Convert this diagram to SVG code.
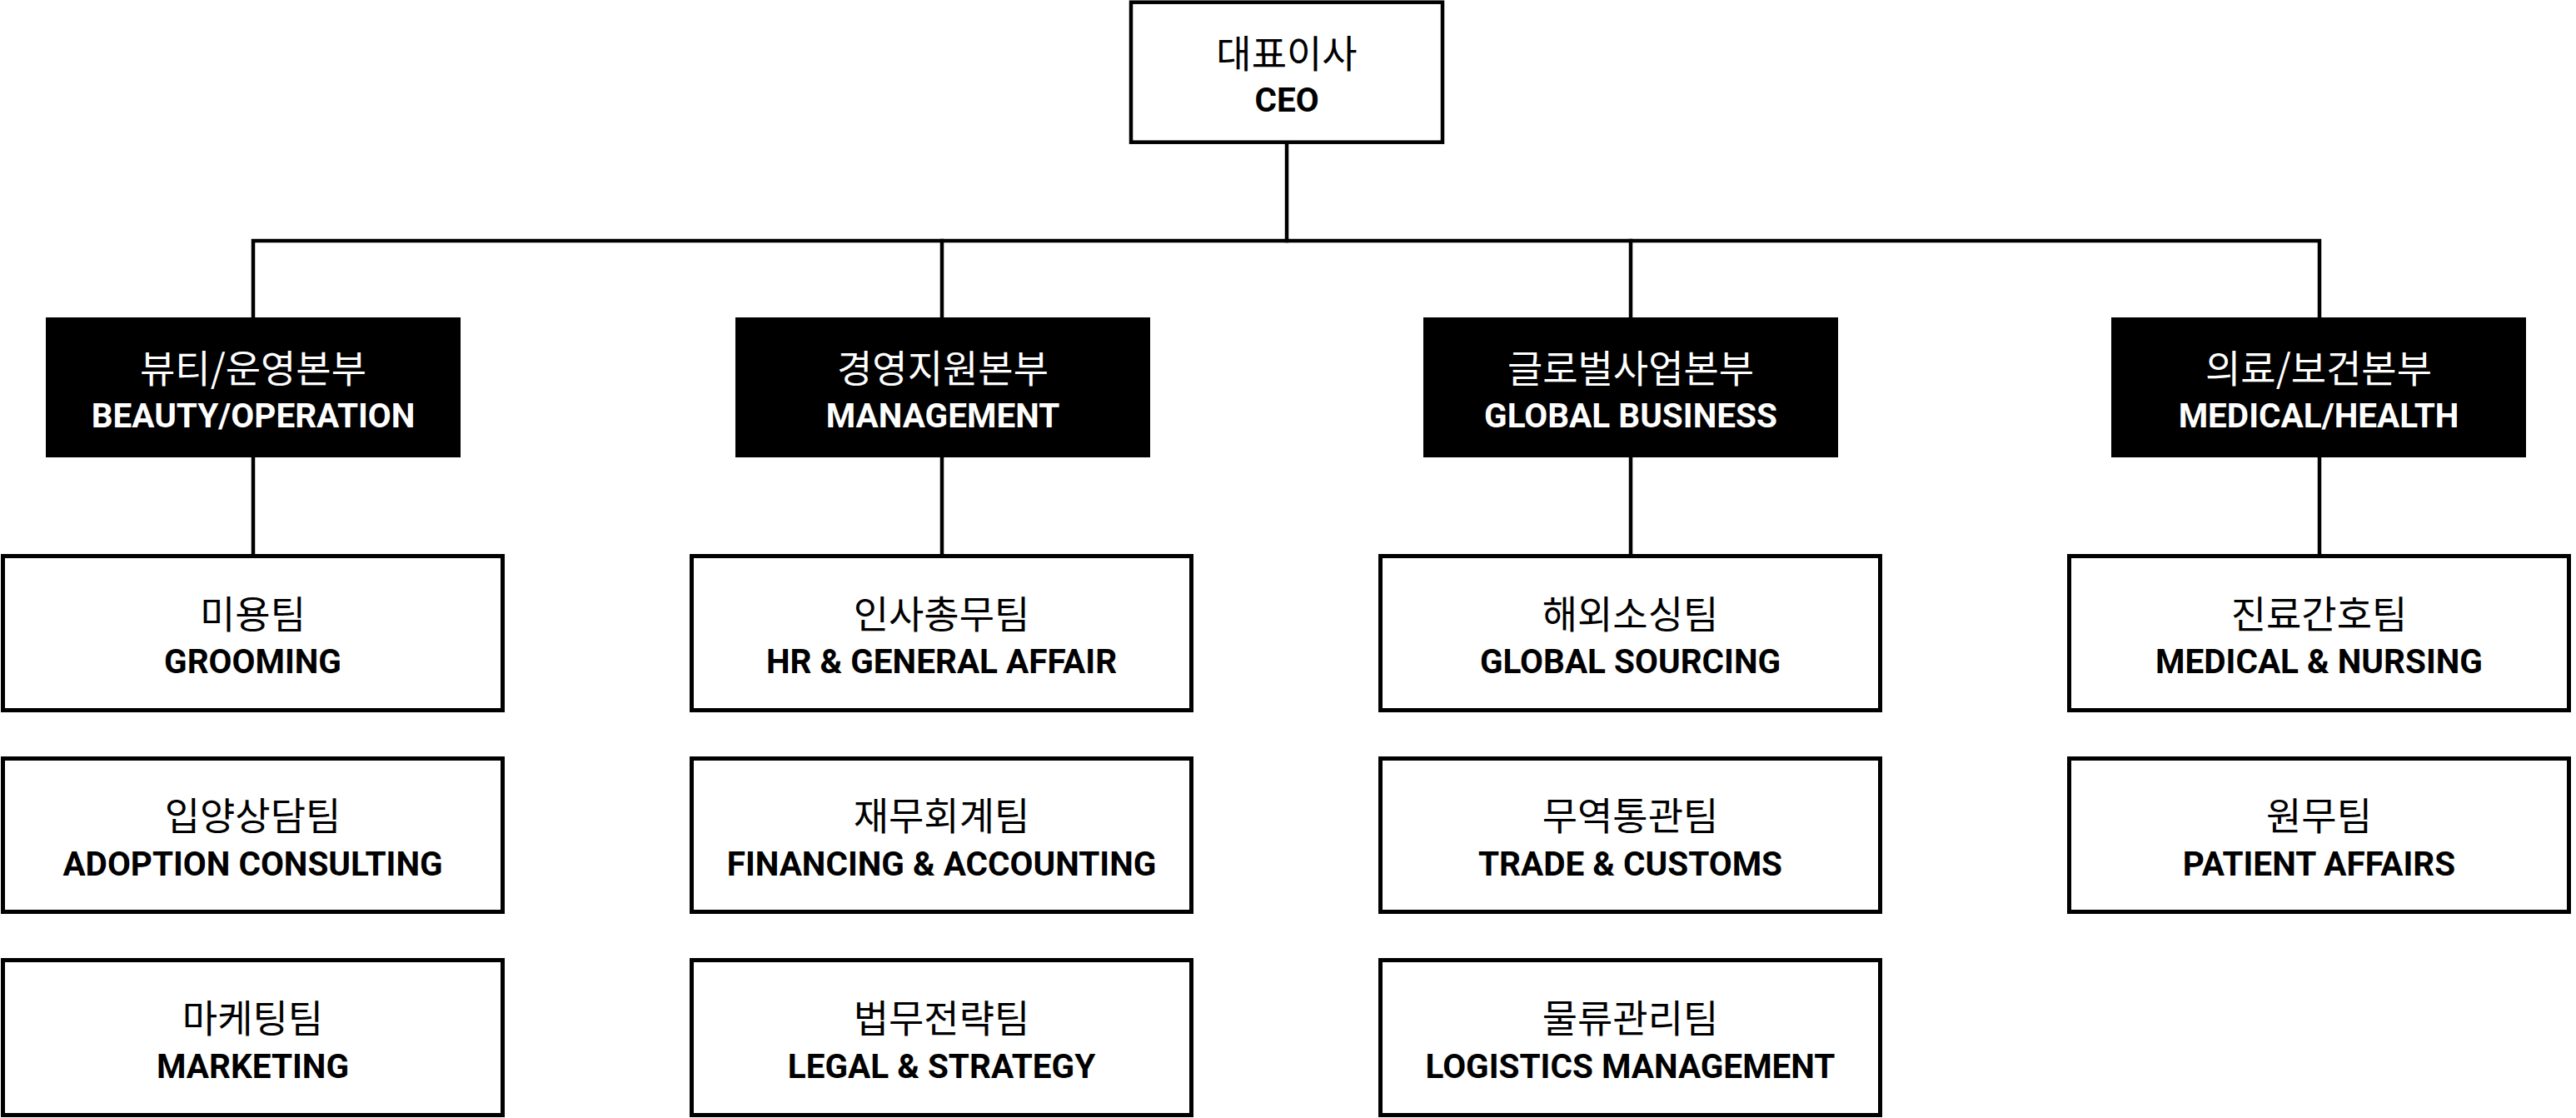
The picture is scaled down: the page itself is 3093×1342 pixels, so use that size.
<svg xmlns="http://www.w3.org/2000/svg" width="3093" height="1342" viewBox="0 0 3093 1342">
<style>
.bg{fill:#ffffff}
.ln{stroke:#000;stroke-width:4.5;fill:none;stroke-linecap:square}
.ceo{fill:#fff;stroke:#000;stroke-width:4.5}
.div{fill:#000}
.team{fill:#fff;stroke:#000;stroke-width:5}
.ko{font-family:"Noto Sans CJK KR","Noto Sans",sans-serif;font-size:46px;font-weight:400;text-anchor:middle}
.en{font-family:Roboto,"Liberation Sans",sans-serif;font-size:40.5px;font-weight:700;text-anchor:middle}
.k{fill:#000}
.w{fill:#fff}
</style>
<rect class="bg" x="0" y="0" width="3093" height="1342"/>
<g id="connectors">
<line class="ln" x1="1545" y1="172" x2="1545" y2="289"/>
<polyline class="ln" points="304,381 304,289 2785,289 2785,381"/>
<line class="ln" x1="1131" y1="289" x2="1131" y2="381"/>
<line class="ln" x1="1958" y1="289" x2="1958" y2="381"/>
<line class="ln" x1="304" y1="549" x2="304" y2="667"/>
<line class="ln" x1="1131" y1="549" x2="1131" y2="667"/>
<line class="ln" x1="1958" y1="549" x2="1958" y2="667"/>
<line class="ln" x1="2785" y1="549" x2="2785" y2="667"/>
</g>
<g id="ceo">
<rect class="ceo" x="1358" y="2.7" width="374" height="168"/>
<text class="ko k" x="1545" y="80.5">대표이사</text>
<text class="en k" x="1545" y="134">CEO</text>
</g>
<g id="div-beauty">
<rect class="div" x="55" y="381" width="498" height="168"/>
<text class="ko w" x="304" y="458.5">뷰티/운영본부</text>
<text class="en w" x="304" y="513">BEAUTY/OPERATION</text>
</g>
<g id="div-management">
<rect class="div" x="883" y="381" width="498" height="168"/>
<text class="ko w" x="1132" y="458.5">경영지원본부</text>
<text class="en w" x="1132" y="513">MANAGEMENT</text>
</g>
<g id="div-global">
<rect class="div" x="1709" y="381" width="498" height="168"/>
<text class="ko w" x="1958" y="458.5">글로벌사업본부</text>
<text class="en w" x="1958" y="513">GLOBAL BUSINESS</text>
</g>
<g id="div-medical">
<rect class="div" x="2535" y="381" width="498" height="168"/>
<text class="ko w" x="2784" y="458.5">의료/보건본부</text>
<text class="en w" x="2784" y="513">MEDICAL/HEALTH</text>
</g>
<g id="team-grooming">
<rect class="team" x="3.5" y="667.5" width="600" height="185"/>
<text class="ko k" x="303.5" y="753.5">미용팀</text>
<text class="en k" x="303.5" y="808">GROOMING</text>
</g>
<g id="team-adoption">
<rect class="team" x="3.5" y="910.5" width="600" height="184"/>
<text class="ko k" x="303.5" y="996">입양상담팀</text>
<text class="en k" x="303.5" y="1050.5">ADOPTION CONSULTING</text>
</g>
<g id="team-marketing">
<rect class="team" x="3.5" y="1152.5" width="600" height="186"/>
<text class="ko k" x="303.5" y="1239">마케팅팀</text>
<text class="en k" x="303.5" y="1293.5">MARKETING</text>
</g>
<g id="team-hr">
<rect class="team" x="830.5" y="667.5" width="600" height="185"/>
<text class="ko k" x="1130.5" y="753.5">인사총무팀</text>
<text class="en k" x="1130.5" y="808">HR &amp; GENERAL AFFAIR</text>
</g>
<g id="team-finance">
<rect class="team" x="830.5" y="910.5" width="600" height="184"/>
<text class="ko k" x="1130.5" y="996">재무회계팀</text>
<text class="en k" x="1130.5" y="1050.5">FINANCING &amp; ACCOUNTING</text>
</g>
<g id="team-legal">
<rect class="team" x="830.5" y="1152.5" width="600" height="186"/>
<text class="ko k" x="1130.5" y="1239">법무전략팀</text>
<text class="en k" x="1130.5" y="1293.5">LEGAL &amp; STRATEGY</text>
</g>
<g id="team-sourcing">
<rect class="team" x="1657.5" y="667.5" width="600" height="185"/>
<text class="ko k" x="1957.5" y="753.5">해외소싱팀</text>
<text class="en k" x="1957.5" y="808">GLOBAL SOURCING</text>
</g>
<g id="team-trade">
<rect class="team" x="1657.5" y="910.5" width="600" height="184"/>
<text class="ko k" x="1957.5" y="996">무역통관팀</text>
<text class="en k" x="1957.5" y="1050.5">TRADE &amp; CUSTOMS</text>
</g>
<g id="team-logistics">
<rect class="team" x="1657.5" y="1152.5" width="600" height="186"/>
<text class="ko k" x="1957.5" y="1239">물류관리팀</text>
<text class="en k" x="1957.5" y="1293.5">LOGISTICS MANAGEMENT</text>
</g>
<g id="team-medical">
<rect class="team" x="2484.5" y="667.5" width="600" height="185"/>
<text class="ko k" x="2784.5" y="753.5">진료간호팀</text>
<text class="en k" x="2784.5" y="808">MEDICAL &amp; NURSING</text>
</g>
<g id="team-patient">
<rect class="team" x="2484.5" y="910.5" width="600" height="184"/>
<text class="ko k" x="2784.5" y="996">원무팀</text>
<text class="en k" x="2784.5" y="1050.5">PATIENT AFFAIRS</text>
</g>
</svg>
